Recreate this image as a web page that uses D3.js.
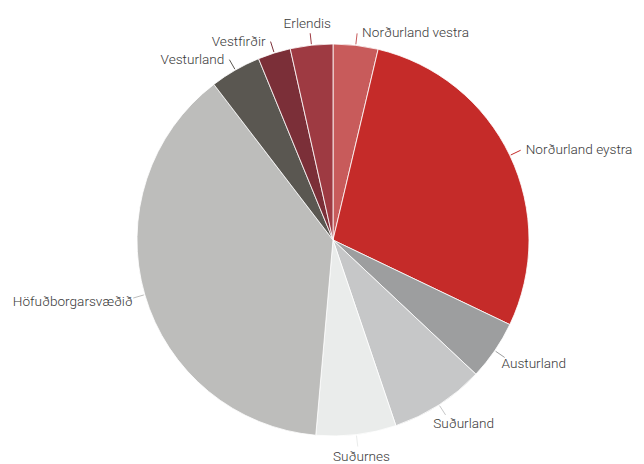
<!DOCTYPE html>
<html>
<head>
<meta charset="utf-8">
<script src="https://cdn.jsdelivr.net/npm/d3@7"></script>
<style>
  html, body { margin: 0; padding: 0; background: #fff; }
  #chart text { font-family: Roboto, "Open Sans", sans-serif; font-weight: 300; font-size: 13.6px; fill: #3a3a3a; }
</style>
</head>
<body>
<div id="chart"></div>
<script>
// Landshlutar, hlutfall (%)
const regions = ["Norðurland vestra", "Norðurland eystra", "Austurland", "Suðurland", "Suðurnes",
  "Höfuðborgarsvæðið", "Vesturland", "Vestfirðir", "Erlendis"];
const shares = [3.7, 28.4, 4.9, 7.8, 6.6, 38.2, 4.2, 2.7, 3.5];
const sliceColors = ["#c85b5b", "#c52b29", "#9d9e9f", "#c6c7c8", "#eaeceb",
  "#bdbdbb", "#5a5751", "#7b2f38", "#9e3a42"];

const W = 644, H = 464;
const cx = 333, cy = 240, R = 196;

const svg = d3.select("#chart").append("svg")
  .attr("width", W)
  .attr("height", H);

const g = svg.append("g")
  .attr("transform", `translate(${cx},${cy})`);

const data = regions.map((name, i) => ({ name, value: shares[i], color: sliceColors[i] }));

const pie = d3.pie()
  .sort(null)
  .value(d => d.value);

const arc = d3.arc()
  .innerRadius(0)
  .outerRadius(R);

const arcs = pie(data);

g.selectAll("path.slice")
  .data(arcs)
  .join("path")
  .attr("class", "slice")
  .attr("d", arc)
  .attr("fill", d => d.data.color)
  .attr("stroke", "#fff")
  .attr("stroke-width", 0.8);

// labels that sit beside the leader end rather than off it radially
const sideLabels = new Set(["Norðurland vestra", "Norðurland eystra", "Vesturland", "Vestfirðir"]);

arcs.forEach(d => {
  const a = (d.startAngle + d.endAngle) / 2;
  const sx = Math.sin(a), sy = -Math.cos(a);
  const x0 = sx * (R + 1), y0 = sy * (R + 1);
  const x1 = sx * (R + 12), y1 = sy * (R + 12);

  g.append("line")
    .attr("x1", x0).attr("y1", y0)
    .attr("x2", x1).attr("y2", y1)
    .attr("stroke", d.data.color)
    .attr("stroke-width", 1);

  const t = g.append("text")
    .attr("dominant-baseline", "central")
    .text(d.data.name);

  if (sideLabels.has(d.data.name)) {
    t.attr("text-anchor", sx > 0 ? "start" : "end")
      .attr("x", x1 + (sx > 0 ? 5 : -5))
      .attr("y", y1 - 1);
  } else {
    const w = t.node().getComputedTextLength();
    t.attr("text-anchor", "middle")
      .attr("x", x1 + sx * (w / 2 + 3))
      .attr("y", y1 + sy * 10);
  }
});
</script>
</body>
</html>
